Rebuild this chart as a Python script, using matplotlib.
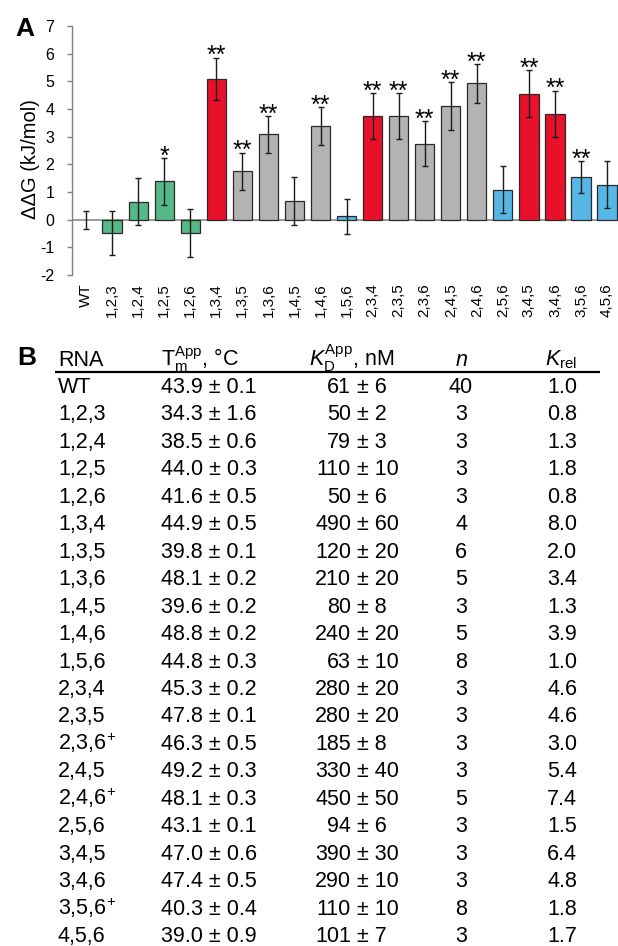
import numpy as np
import matplotlib.pyplot as plt

plt.rcParams['font.family'] = ['Liberation Sans', 'DejaVu Sans']
plt.rcParams['mathtext.fontset'] = 'custom'
plt.rcParams['mathtext.rm'] = 'Liberation Sans'
plt.rcParams['mathtext.it'] = 'Liberation Sans:italic'
plt.rcParams['mathtext.bf'] = 'Liberation Sans:bold'
plt.rcParams['axes.unicode_minus'] = False

#### Daten Panel A ####
rna = ['WT', '1,2,3', '1,2,4', '1,2,5', '1,2,6', '1,3,4', '1,3,5', '1,3,6', '1,4,5', '1,4,6',
       '1,5,6', '2,3,4', '2,3,5', '2,3,6', '2,4,5', '2,4,6', '2,5,6', '3,4,5', '3,4,6', '3,5,6', '4,5,6']
ddg = [0.0, -0.48, 0.64, 1.38, -0.48, 5.1, 1.75, 3.08, 0.67, 3.38,
       0.12, 3.74, 3.74, 2.75, 4.11, 4.93, 1.09, 4.55, 3.83, 1.53, 1.27]
ddg_err = [0.32, 0.8, 0.85, 0.85, 0.87, 0.76, 0.67, 0.66, 0.86, 0.68,
           0.63, 0.84, 0.84, 0.82, 0.87, 0.7, 0.84, 0.85, 0.83, 0.58, 0.84]
group = ['wt', 'g', 'g', 'g', 'g', 'r', 'k', 'k', 'k', 'k',
         'b', 'r', 'k', 'k', 'k', 'k', 'b', 'r', 'r', 'b', 'b']
stars = ['', '', '', '*', '', '**', '**', '**', '', '**',
         '', '**', '**', '**', '**', '**', '', '**', '**', '**', '']

#### Daten Panel B ####
names = ['WT', '1,2,3', '1,2,4', '1,2,5', '1,2,6', '1,3,4', '1,3,5', '1,3,6', '1,4,5', '1,4,6',
         '1,5,6', '2,3,4', '2,3,5', '2,3,6$^{+}$', '2,4,5', '2,4,6$^{+}$', '2,5,6', '3,4,5', '3,4,6',
         '3,5,6$^{+}$', '4,5,6']
tm = ['43.9 ± 0.1', '34.3 ± 1.6', '38.5 ± 0.6', '44.0 ± 0.3', '41.6 ± 0.5', '44.9 ± 0.5',
      '39.8 ± 0.1', '48.1 ± 0.2', '39.6 ± 0.2', '48.8 ± 0.2', '44.8 ± 0.3', '45.3 ± 0.2',
      '47.8 ± 0.1', '46.3 ± 0.5', '49.2 ± 0.3', '48.1 ± 0.3', '43.1 ± 0.1', '47.0 ± 0.6',
      '47.4 ± 0.5', '40.3 ± 0.4', '39.0 ± 0.9']
kd = [61, 50, 79, 110, 50, 490, 120, 210, 80, 240, 63, 280, 280, 185, 330, 450, 94, 390, 290, 110, 101]
kd_err = [6, 2, 3, 10, 6, 60, 20, 20, 8, 20, 10, 20, 20, 8, 40, 50, 6, 30, 10, 10, 7]
n_rep = [40, 3, 3, 3, 3, 4, 6, 5, 3, 5, 8, 3, 3, 3, 3, 5, 3, 3, 3, 8, 3]
krel = ['1.0', '0.8', '1.3', '1.8', '0.8', '8.0', '2.0', '3.4', '1.3', '3.9', '1.0', '4.6',
        '4.6', '3.0', '5.4', '7.4', '1.5', '6.4', '4.8', '1.8', '1.7']

farben = {'wt': '#b3b3b3', 'g': '#55b886', 'r': '#e8102b', 'k': '#b3b3b3', 'b': '#56b7e6'}

W, H = 618, 946
fig = plt.figure(figsize=(W / 100, H / 100), dpi=100)

##################
#### Panel A #####
##################
ax = fig.add_axes([72 / W, 1 - 275 / H, (W - 72) / W, (275 - 26) / H])
x = np.arange(len(rna))
ax.axhline(0, color='#8a8a8a', lw=1.2, zorder=1)
for i in x:
    if group[i] == 'wt':
        continue
    ax.bar(i, ddg[i], width=0.74, color=farben[group[i]], edgecolor='#2a2a2a', lw=0.9, zorder=2)
ax.errorbar(x, ddg, yerr=ddg_err, fmt='none', ecolor='#1a1a1a', elinewidth=1.0,
            capsize=2.5, capthick=1.0, zorder=3)
for i in x:
    if stars[i]:
        ax.annotate(stars[i], (i, ddg[i] + ddg_err[i]), xytext=(0, -4), textcoords='offset points',
                    ha='center', va='baseline', fontsize=18)

ax.set_xlim(-0.54, 20.42)
ax.set_ylim(-2, 7)
ax.set_yticks(range(-2, 8))
ax.set_xticks(x)
ax.set_xticklabels(rna, rotation=90, fontsize=11)
ax.tick_params(axis='x', length=0, pad=6)
ax.tick_params(axis='y', labelsize=11.5, length=3.6, width=1, color='#808080', pad=9)
for s in ['top', 'right', 'bottom']:
    ax.spines[s].set_visible(False)
ax.spines['left'].set_color('#808080')
ax.spines['left'].set_linewidth(1)
fig.text(30 / W, 1 - 159 / H, 'ΔΔG (kJ/mol)', rotation=90, ha='center', va='center', fontsize=14.5)
fig.text(15 / W, 1 - 36 / H, 'A', fontsize=19, fontweight='bold', va='baseline')

##################
#### Panel B #####
##################
y0, dy = 393, 27.45
tb = fig.add_axes([0, 0, 1, 1 - 340 / H])
tb.set_xlim(0, W)
tb.set_ylim((H - y0) / dy, (340 - y0) / dy)
tb.axis('off')
fs = 15.5
tb.text(58, -1, 'RNA', fontsize=fs, va='baseline')
tb.text(161, -1, r'T$_\mathrm{m}^\mathrm{App}$, °C', fontsize=fs, va='baseline')
tb.text(309, -1, r'$K_\mathrm{D}^\mathrm{App}$, nM', fontsize=fs, va='baseline')
tb.text(461, -1, r'$n$', fontsize=fs, va='baseline', ha='center')
tb.text(577, -1, r'$K_\mathrm{rel}$', fontsize=fs, va='baseline', ha='right')
tb.plot([55, 600], [(372 - y0) / dy] * 2, color='black', lw=1.6, solid_capstyle='butt')
for r in range(len(names)):
    tb.text(58, r, names[r], fontsize=fs, va='baseline')
    tb.text(161, r, tm[r], fontsize=fs, va='baseline')
    tb.text(351, r, str(kd[r]), fontsize=fs, va='baseline', ha='right')
    tb.text(357, r, '± %d' % kd_err[r], fontsize=fs, va='baseline')
    tb.text(461, r, str(n_rep[r]), fontsize=fs, va='baseline', ha='center')
    tb.text(577, r, krel[r], fontsize=fs, va='baseline', ha='right')
fig.text(17 / W, 1 - 365 / H, 'B', fontsize=19, fontweight='bold', va='baseline')

fig.savefig('out.png', dpi=100)
